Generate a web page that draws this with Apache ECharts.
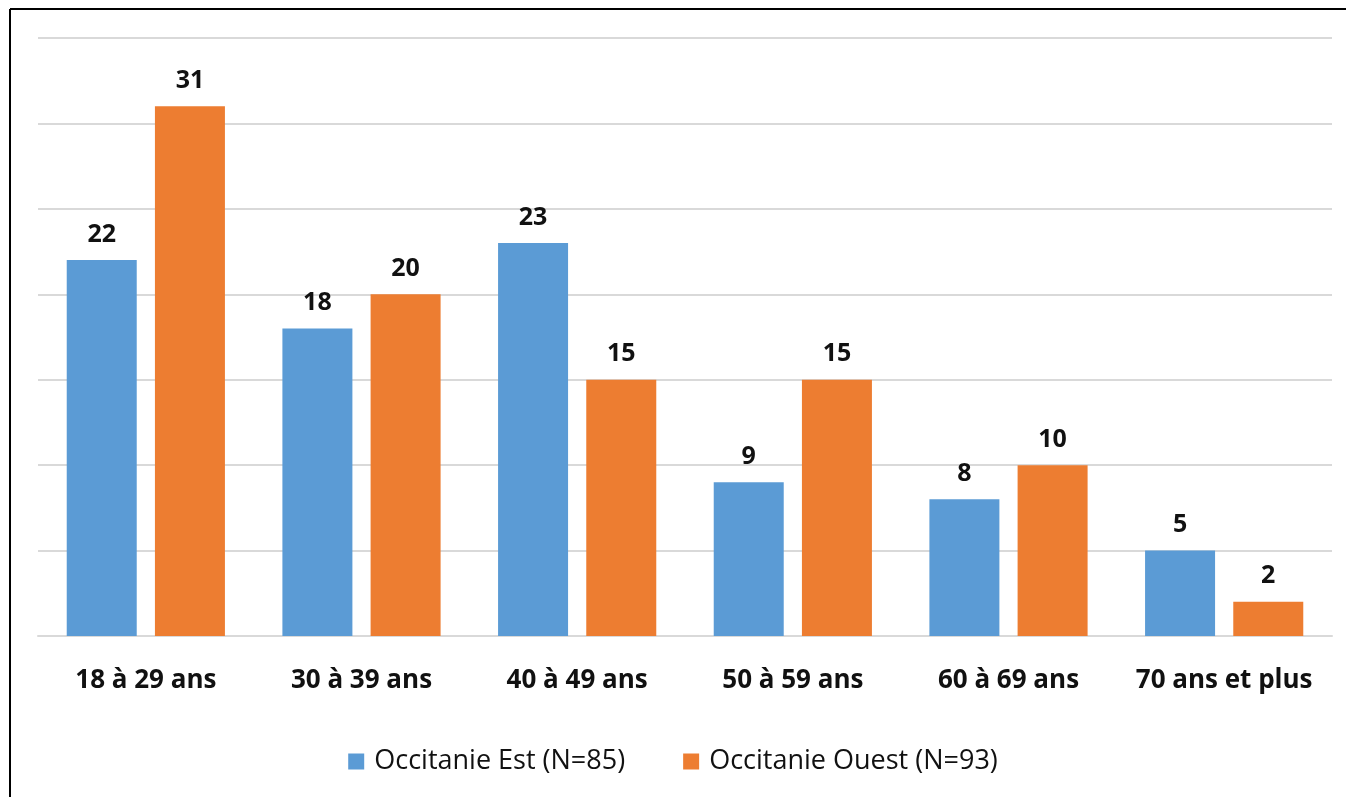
<!DOCTYPE html>
<html>
<head>
<meta charset="utf-8">
<script src="https://cdn.jsdelivr.net/npm/echarts@6/dist/echarts.min.js"></script>
<style>
  html, body { margin: 0; padding: 0; background: #fff; }
  #chart { width: 1346px; height: 797px; }
</style>
</head>
<body>
<div id="chart"></div>
<script>
var categories = ['18 à 29 ans', '30 à 39 ans', '40 à 49 ans', '50 à 59 ans', '60 à 69 ans', '70 ans et plus'];
var estValues = [22, 18, 23, 9, 8, 5];
var ouestValues = [31, 20, 15, 15, 10, 2];
var seriesNames = ['Occitanie Est (N=85)', 'Occitanie Ouest (N=93)'];

var myChart = echarts.init(document.getElementById('chart'));
var labelStyle = {
    show: true,
    position: 'top',
    distance: 13,
    color: '#111',
    fontFamily: 'Open Sans',
    fontWeight: 'bold',
    fontSize: 25
};
var option = {
    animation: false,
    graphic: [
        { type: 'line', shape: { x1: 10, y1: 9, x2: 1346, y2: 9 }, style: { stroke: '#000', lineWidth: 2 } },
        { type: 'line', shape: { x1: 10, y1: 9, x2: 10, y2: 797 }, style: { stroke: '#000', lineWidth: 2 } }
    ],
    grid: { left: 38, right: 14, top: 38, bottom: 161 },
    legend: {
        data: seriesNames,
        top: 743,
        left: 'center',
        itemWidth: 16,
        itemHeight: 16,
        itemGap: 58,
        icon: 'rect',
        textStyle: { fontFamily: 'Open Sans', fontSize: 27, color: '#111', padding: [0, 0, 0, 5] }
    },
    xAxis: {
        type: 'category',
        data: categories,
        axisLine: { lineStyle: { color: '#d9d9d9', width: 2 } },
        axisTick: { show: false },
        axisLabel: {
            interval: 0,
            margin: 32,
            color: '#111',
            fontFamily: 'Open Sans',
            fontWeight: 'bold',
            fontSize: 26
        }
    },
    yAxis: {
        type: 'value',
        min: 0,
        max: 35,
        interval: 5,
        axisLabel: { show: false },
        axisLine: { show: false },
        axisTick: { show: false },
        splitLine: { lineStyle: { color: '#d9d9d9', width: 2 } }
    },
    series: [
        {
            name: seriesNames[0],
            type: 'bar',
            data: estValues,
            barWidth: 70,
            barGap: '26%',
            itemStyle: { color: '#5b9bd5' },
            label: labelStyle
        },
        {
            name: seriesNames[1],
            type: 'bar',
            data: ouestValues,
            barWidth: 70,
            itemStyle: { color: '#ed7d31' },
            label: labelStyle
        }
    ]
};
myChart.setOption(option);
</script>
</body>
</html>
